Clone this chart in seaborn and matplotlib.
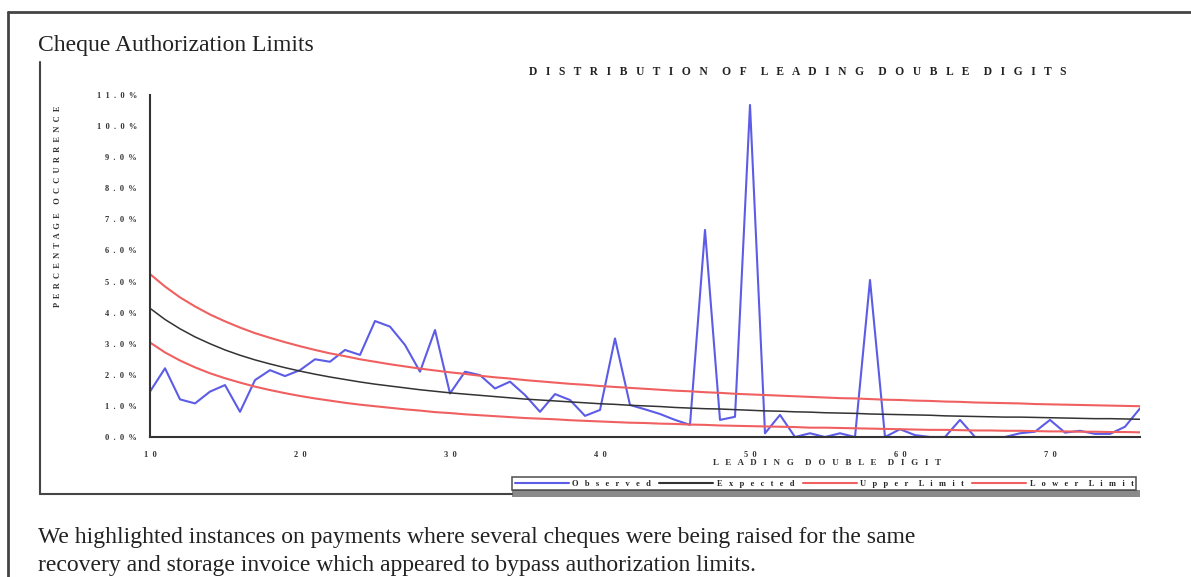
import matplotlib
matplotlib.use("Agg")
import matplotlib.pyplot as plt
import seaborn as sns
import pandas as pd
from matplotlib.lines import Line2D
from matplotlib.patches import Rectangle

# leading double digits shown on the chart
digits = list(range(10, 77))

# percentages
observed = [1.46, 2.21, 1.21, 1.08, 1.46, 1.67, 0.81, 1.83, 2.15, 1.96,
            2.15, 2.50, 2.42, 2.80, 2.64, 3.73, 3.55, 2.96, 2.10, 3.44,
            1.40, 2.10, 1.99, 1.56, 1.78, 1.35, 0.81, 1.38, 1.19, 0.68,
            0.87, 3.17, 1.03, 0.89, 0.74, 0.55, 0.39, 6.66, 0.55, 0.65,
            10.68, 0.12, 0.71, 0.00, 0.12, 0.00, 0.12, 0.00, 5.05, 0.00,
            0.25, 0.06, 0.00, 0.00, 0.55, 0.00, 0.00, 0.00, 0.12, 0.17,
            0.55, 0.14, 0.20, 0.10, 0.10, 0.33, 0.92]

expected = [4.14, 3.78, 3.48, 3.22, 3.00, 2.80, 2.63, 2.48, 2.35, 2.23,
            2.12, 2.02, 1.93, 1.85, 1.77, 1.70, 1.64, 1.58, 1.52, 1.47,
            1.42, 1.38, 1.34, 1.30, 1.26, 1.22, 1.19, 1.16, 1.13, 1.10,
            1.07, 1.05, 1.02, 1.00, 0.98, 0.95, 0.93, 0.91, 0.90, 0.88,
            0.86, 0.84, 0.83, 0.81, 0.80, 0.78, 0.77, 0.76, 0.74, 0.73,
            0.72, 0.71, 0.70, 0.68, 0.67, 0.66, 0.65, 0.64, 0.64, 0.63,
            0.62, 0.61, 0.60, 0.59, 0.59, 0.58, 0.57]

upper_limit = [5.24, 4.84, 4.49, 4.20, 3.94, 3.72, 3.52, 3.34, 3.19, 3.05,
               2.92, 2.80, 2.69, 2.60, 2.50, 2.42, 2.34, 2.27, 2.20, 2.14,
               2.08, 2.03, 1.97, 1.92, 1.88, 1.83, 1.79, 1.75, 1.71, 1.68,
               1.64, 1.61, 1.58, 1.55, 1.52, 1.49, 1.47, 1.44, 1.42, 1.39,
               1.37, 1.35, 1.33, 1.31, 1.29, 1.27, 1.25, 1.24, 1.22, 1.20,
               1.19, 1.17, 1.16, 1.14, 1.13, 1.11, 1.10, 1.09, 1.08, 1.06,
               1.05, 1.04, 1.03, 1.02, 1.01, 1.00, 0.99]

lower_limit = [3.04, 2.72, 2.46, 2.24, 2.05, 1.89, 1.75, 1.62, 1.51, 1.41,
               1.32, 1.24, 1.17, 1.10, 1.04, 0.99, 0.94, 0.89, 0.85, 0.80,
               0.77, 0.73, 0.70, 0.67, 0.64, 0.61, 0.59, 0.57, 0.54, 0.52,
               0.50, 0.48, 0.46, 0.45, 0.43, 0.42, 0.40, 0.39, 0.37, 0.36,
               0.35, 0.34, 0.33, 0.32, 0.30, 0.30, 0.29, 0.28, 0.27, 0.26,
               0.25, 0.24, 0.23, 0.23, 0.22, 0.21, 0.21, 0.20, 0.20, 0.19,
               0.18, 0.18, 0.17, 0.17, 0.16, 0.16, 0.15]

y_ticks = list(range(0, 12))
y_tick_labels = ["0.0%", "1.0%", "2.0%", "3.0%", "4.0%", "5.0%", "6.0%",
                 "7.0%", "8.0%", "9.0%", "10.0%", "11.0%"]
x_ticks = [10, 20, 30, 40, 50, 60, 70]
x_tick_labels = ["10", "20", "30", "40", "50", "60", "70"]

series_names = ["Observed", "Expected", "Upper Limit", "Lower Limit"]
series_colors = ["#5c5ce6", "#333333", "#f06060", "#f06060"]

W, H = 1191, 577


def fx(x):
    return x / W


def fy(y):
    return 1 - y / H


def spaced(s, n=2):
    # the chart uses very wide letter spacing
    return (" " * (n + 2)).join((" " * n).join(w) for w in s.split())


sns.set_style("white")
plt.rcParams["font.family"] = ["Liberation Serif", "DejaVu Serif"]

fig = plt.figure(figsize=(11.91, 5.77), dpi=100)
ax = fig.add_axes([fx(150), fy(437), (1140 - 150) / W, (437 - 95) / H])

df = pd.DataFrame({
    "digit": digits,
    "Observed": observed,
    "Expected": expected,
    "Upper Limit": upper_limit,
    "Lower Limit": lower_limit,
})
long = df.melt(id_vars="digit", var_name="series", value_name="pct")

sns.lineplot(data=long, x="digit", y="pct", hue="series",
             hue_order=series_names,
             palette=dict(zip(series_names, series_colors)),
             linewidth=1.5, ax=ax, legend=False)
ax.lines[1].set_linewidth(1.1)

ax.set_xlim(10, 76)
ax.set_ylim(0, 11)
ax.set_xticks(x_ticks)
ax.set_xticklabels([spaced(t) for t in x_tick_labels])
ax.set_yticks(y_ticks)
ax.set_yticklabels([spaced(t) for t in y_tick_labels])
ax.set_xlabel("")
ax.set_ylabel("")
for side in ["top", "right"]:
    ax.spines[side].set_visible(False)
for side in ["left", "bottom"]:
    ax.spines[side].set_color("#333333")
    ax.spines[side].set_linewidth(1.5)
ax.tick_params(axis="y", length=4.5, width=1, color="#333333", pad=5,
               labelsize=6)
ax.tick_params(axis="x", length=3, width=1, color="#333333", pad=7,
               labelsize=6)
for lab in ax.get_xticklabels() + ax.get_yticklabels():
    lab.set_fontweight("bold")
    lab.set_color("#333333")

# titles and labels
fig.text(fx(38), fy(45), "Cheque Authorization Limits", fontsize=17,
         va="center", ha="left", color="#222222")
fig.text(fx(798), fy(72), spaced("DISTRIBUTION OF LEADING DOUBLE DIGITS", 3),
         fontsize=8.3, fontweight="bold", ha="center", va="center",
         color="#222222")
fig.text(fx(58), fy(206), spaced("PERCENTAGE OCCURRENCE"), fontsize=6,
         fontweight="bold", rotation=90, ha="center", va="center",
         color="#333333")
fig.text(fx(827), fy(463), spaced("LEADING DOUBLE DIGIT", 3), fontsize=6.5,
         fontweight="bold", ha="center", va="center", color="#333333")

# legend
handles = [Line2D([0], [0], color=c, lw=1.5) for c in series_colors]
leg = fig.legend(handles, [spaced(n, 3) for n in series_names],
                 loc="lower left", bbox_to_anchor=(fx(512), fy(490)),
                 ncol=4, frameon=True, fancybox=False, edgecolor="#333333",
                 prop={"size": 6, "weight": "bold"}, handlelength=6.5,
                 handletextpad=0.4, columnspacing=1.0, borderpad=0.3,
                 borderaxespad=0)
leg.get_frame().set_linewidth(1.2)

# frames of the document and the chart object
frame = dict(transform=fig.transFigure, color="#444444")
fig.add_artist(Line2D([fx(8), fx(8)], [fy(12), fy(577)], lw=2, **frame))
fig.add_artist(Line2D([fx(8), fx(1191)], [fy(12), fy(12)], lw=2, **frame))
fig.add_artist(Line2D([fx(40), fx(40)], [fy(62), fy(494)], lw=1.5, **frame))
fig.add_artist(Line2D([fx(40), fx(512)], [fy(494), fy(494)], lw=1.5, **frame))
fig.add_artist(Rectangle((fx(512), fy(497)), fx(1140 - 512), 7 / H,
                         transform=fig.transFigure, color="#8a8a8a", lw=0))

# text below the chart
fig.text(fx(38), fy(538),
         "We highlighted instances on payments where several cheques were "
         "being raised for the same", fontsize=17, va="center",
         color="#222222")
fig.text(fx(38), fy(565),
         "recovery and storage invoice which appeared to bypass "
         "authorization limits.", fontsize=17, va="center", color="#222222")

fig.savefig("out.png", dpi=100)
